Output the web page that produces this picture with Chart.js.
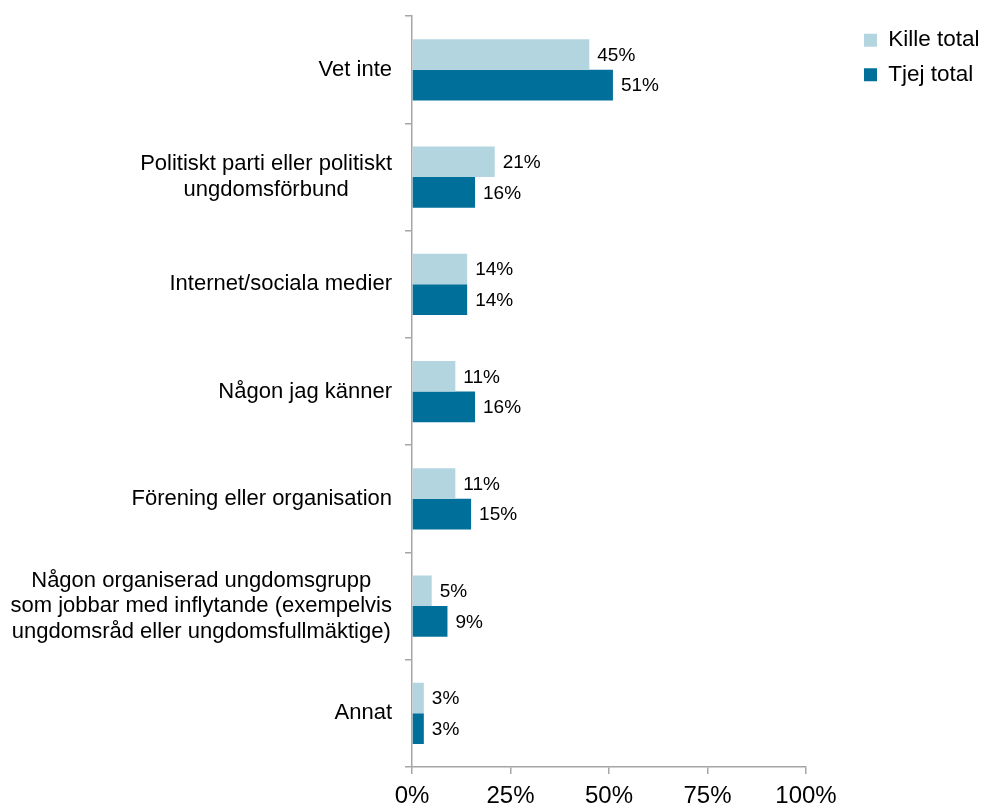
<!DOCTYPE html>
<html>
<head>
<meta charset="utf-8">
<script src="https://cdn.jsdelivr.net/npm/chart.js@4"></script>
<style>
  html, body { margin: 0; padding: 0; background: #ffffff; }
  #wrap { width: 986px; height: 805px; position: relative; }
</style>
</head>
<body>
<div id="wrap"><canvas id="c" width="986" height="805"></canvas></div>
<script>
const categories = [
  "Vet inte",
  ["Politiskt parti eller politiskt", "ungdomsförbund"],
  "Internet/sociala medier",
  "Någon jag känner",
  "Förening eller organisation",
  ["Någon organiserad ungdomsgrupp", "som jobbar med inflytande (exempelvis", "ungdomsråd eller ungdomsfullmäktige)"],
  "Annat"
];
const seriesNames = ["Kille total", "Tjej total"];
const killeValues = [45, 21, 14, 11, 11, 5, 3];
const tjejValues = [51, 16, 14, 16, 15, 9, 3];
const xTickValues = [0, 25, 50, 75, 100];

const FONT = "'Liberation Sans', Arial, Helvetica, sans-serif";
const AXIS_GRAY = '#A6A6A6';

const valueLabels = {
  id: 'valueLabels',
  afterDatasetsDraw(chart) {
    const ctx = chart.ctx;
    ctx.save();
    ctx.font = '19px ' + FONT;
    ctx.fillStyle = '#000';
    ctx.textAlign = 'left';
    ctx.textBaseline = 'middle';
    chart.data.datasets.forEach((ds, di) => {
      const meta = chart.getDatasetMeta(di);
      meta.data.forEach((bar, i) => {
        ctx.fillText(ds.data[i] + '%', bar.x + 8, bar.y + 1);
      });
    });
    ctx.restore();
  }
};

const categoryLabels = {
  id: 'categoryLabels',
  afterDraw(chart) {
    const ctx = chart.ctx;
    const scale = chart.scales.y;
    const rightX = chart.chartArea.left - 20;
    const lineH = 25.5;
    ctx.save();
    ctx.font = '22px ' + FONT;
    ctx.fillStyle = '#000';
    ctx.textAlign = 'center';
    ctx.textBaseline = 'middle';
    categories.forEach((lab, i) => {
      const lines = Array.isArray(lab) ? lab : [lab];
      const maxW = Math.max(...lines.map(l => ctx.measureText(l).width));
      const cx = rightX - maxW / 2;
      const cy = scale.getPixelForTick(i);
      lines.forEach((l, j) => {
        ctx.fillText(l, cx, cy + (j - (lines.length - 1) / 2) * lineH);
      });
    });
    ctx.restore();
  }
};

// move the legend box right of the x-axis overflow space
const legendShift = {
  id: 'legendShift',
  afterLayout(chart) {
    const lg = chart.legend;
    if (!lg) return;
    const dx = chart.chartArea.right + 46 - lg.left;
    lg.left += dx;
    lg.right += dx;
  }
};

new Chart(document.getElementById('c'), {
  type: 'bar',
  data: {
    labels: categories,
    datasets: [
      { label: seriesNames[0], data: killeValues, backgroundColor: '#B3D5E0', borderWidth: 0 },
      { label: seriesNames[1], data: tjejValues, backgroundColor: '#00709B', borderWidth: 0 }
    ]
  },
  options: {
    indexAxis: 'y',
    responsive: false,
    animation: false,
    devicePixelRatio: 1,
    layout: { padding: { top: 14, right: 0, bottom: 0, left: 0 } },
    datasets: { bar: { categoryPercentage: 0.57, barPercentage: 1.0 } },
    plugins: {
      legend: {
        position: 'right',
        align: 'start',
        title: { display: true, text: '', font: { size: 1, lineHeight: 1 }, padding: { top: 0, bottom: 2 } },
        labels: {
          boxWidth: 13,
          boxHeight: 13,
          padding: 12,
          color: '#000',
          font: { family: FONT, size: 22.5 }
        }
      },
      tooltip: { enabled: false }
    },
    scales: {
      x: {
        min: 0,
        max: 100,
        afterBuildTicks(scale) { scale.ticks = xTickValues.map(v => ({ value: v })); },
        afterFit(scale) { scale.height = 38; scale.paddingRight = 180; },
        ticks: {
          callback: v => v + '%',
          color: '#000',
          padding: 8,
          maxRotation: 0,
          font: { family: FONT, size: 24 }
        },
        grid: { drawOnChartArea: false, drawTicks: true, tickLength: 7, color: AXIS_GRAY, lineWidth: 1.5 },
        border: { display: true, color: AXIS_GRAY, width: 1.5 }
      },
      y: {
        afterFit(scale) { scale.width = 412; },
        ticks: { color: 'rgba(0,0,0,0)', font: { family: FONT, size: 22 } },
        grid: { offset: true, drawOnChartArea: false, drawTicks: true, tickLength: 7, color: AXIS_GRAY, lineWidth: 1.5 },
        border: { display: true, color: AXIS_GRAY, width: 1.5 }
      }
    }
  },
  plugins: [valueLabels, categoryLabels, legendShift]
});
</script>
</body>
</html>
